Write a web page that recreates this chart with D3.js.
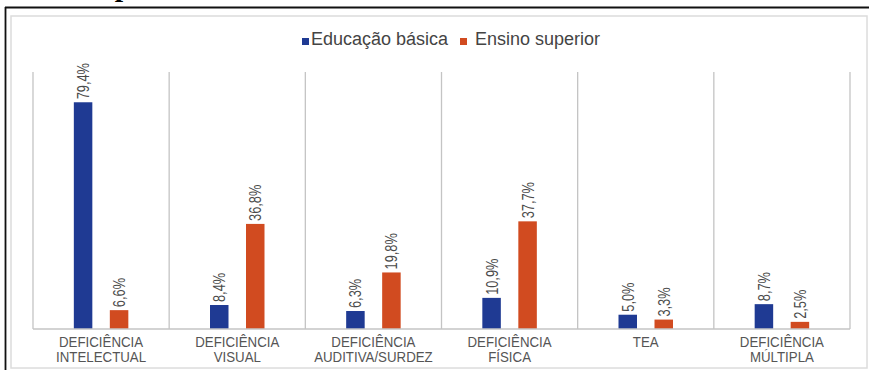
<!DOCTYPE html>
<html>
<head>
<meta charset="utf-8">
<script src="https://cdn.jsdelivr.net/npm/d3@7"></script>
<style>
  html, body { margin: 0; padding: 0; background: #fff; }
  svg { display: block; }
</style>
</head>
<body>
<svg id="chart" width="869" height="370"></svg>
<script>
// Distribution of students by type of disability, basic vs higher education
const categories = [
  ["DEFICIÊNCIA", "INTELECTUAL"],
  ["DEFICIÊNCIA", "VISUAL"],
  ["DEFICIÊNCIA", "AUDITIVA/SURDEZ"],
  ["DEFICIÊNCIA", "FÍSICA"],
  ["TEA"],
  ["DEFICIÊNCIA", "MÚLTIPLA"]
];
const seriesNames = ["Educação básica", "Ensino superior"];
const educacaoBasica = [79.4, 8.4, 6.3, 10.9, 5.0, 8.7];
const ensinoSuperior = [6.6, 36.8, 19.8, 37.7, 3.3, 2.5];
const colors = ["#1f3a93", "#d14b20"];

const svg = d3.select("#chart");
const W = 869, H = 370;

// outer frame (with the tail of the heading above it) and the lighter inner border
svg.append("text")
  .attr("x", 123).attr("y", -4)
  .attr("text-anchor", "middle")
  .style("font-family", "Liberation Serif, serif")
  .style("font-weight", "bold")
  .style("font-size", "30px")
  .attr("fill", "#000")
  .text("p");
svg.append("line").attr("x1", 5).attr("x2", W).attr("y1", 7.5).attr("y2", 7.5)
  .attr("stroke", "#111").attr("stroke-width", 1.8);
svg.append("line").attr("x1", 5.5).attr("x2", 5.5).attr("y1", 7).attr("y2", H)
  .attr("stroke", "#111").attr("stroke-width", 1.8);
svg.append("rect").attr("x", 11).attr("y", 16).attr("width", 856).attr("height", 352)
  .attr("fill", "none").attr("stroke", "#dcdcdc").attr("stroke-width", 1.5);

const plot = { left: 33, right: 850, top: 72, bottom: 329 };
const keys = categories.map(c => c.join(" "));

const x = d3.scaleBand().domain(keys).range([plot.left, plot.right]).padding(0);
const y = d3.scaleLinear().domain([0, 90]).range([plot.bottom, plot.top]);

const barW = 18.5, barOffset = 18;

// vertical separators between categories
const bounds = keys.map(k => x(k)).concat([plot.right]);
svg.append("g").selectAll("line").data(bounds).join("line")
  .attr("x1", d => d).attr("x2", d => d)
  .attr("y1", y(90)).attr("y2", y(0))
  .attr("stroke", "#c4c4c4").attr("stroke-width", 1.3);

// bars
const rows = keys.map((k, i) => ({ key: k, values: [educacaoBasica[i], ensinoSuperior[i]] }));
const groups = svg.append("g").selectAll("g").data(rows).join("g");

groups.selectAll("rect").data(d => d.values.map((v, s) => ({ key: d.key, v, s }))).join("rect")
  .attr("x", d => x(d.key) + x.bandwidth() / 2 + (d.s === 0 ? -barOffset : barOffset) - barW / 2)
  .attr("y", d => y(d.v))
  .attr("width", barW)
  .attr("height", d => y(0) - y(d.v))
  .attr("fill", d => colors[d.s]);

// baseline
svg.append("line").attr("x1", plot.left).attr("x2", plot.right)
  .attr("y1", y(0)).attr("y2", y(0))
  .attr("stroke", "#c4c4c4").attr("stroke-width", 1.3);

// rotated value labels, in a condensed setting
const fmt = v => d3.format(".1f")(v).replace(".", ",") + "%";
groups.selectAll("text.val").data(d => d.values.map((v, s) => ({ key: d.key, v, s }))).join("text")
  .attr("class", "val")
  .attr("transform", d => {
    const cx = x(d.key) + x.bandwidth() / 2 + (d.s === 0 ? -barOffset : barOffset);
    return `translate(${cx},${y(d.v) - 3}) rotate(-90) scale(0.8,1.05)`;
  })
  .attr("dy", "0.36em")
  .attr("text-anchor", "start")
  .style("font-family", "'Liberation Sans', Arial, sans-serif")
  .style("font-size", "16px")
  .attr("fill", "#4a4a4a")
  .text(d => fmt(d.v));

// category labels, one text per line
const catLines = [];
categories.forEach((lines, i) => lines.forEach((t, j) => catLines.push({ key: keys[i], t, j })));
svg.append("g").selectAll("text").data(catLines).join("text")
  .attr("transform", d => `translate(${x(d.key) + x.bandwidth() / 2},${346.5 + d.j * 15}) scale(0.95,1.08)`)
  .attr("text-anchor", "middle")
  .style("font-family", "'Liberation Sans', Arial, sans-serif")
  .style("font-size", "14px")
  .attr("fill", "#555")
  .text(d => d.t);

// legend
const legend = svg.append("g").attr("transform", "translate(0,45)");
const legendItems = [
  { name: seriesNames[0], color: colors[0], x: 302, tx: 9 },
  { name: seriesNames[1], color: colors[1], x: 460, tx: 15 }
];
const li = legend.selectAll("g").data(legendItems).join("g")
  .attr("transform", d => `translate(${d.x},0)`);
li.append("rect").attr("x", 0).attr("y", -7).attr("width", 7).attr("height", 7)
  .attr("fill", d => d.color);
li.append("text").attr("x", d => d.tx).attr("y", 0)
  .style("font-family", "'Liberation Sans', Arial, sans-serif")
  .style("font-size", "18px")
  .attr("fill", "#444")
  .text(d => d.name);
</script>
</body>
</html>
